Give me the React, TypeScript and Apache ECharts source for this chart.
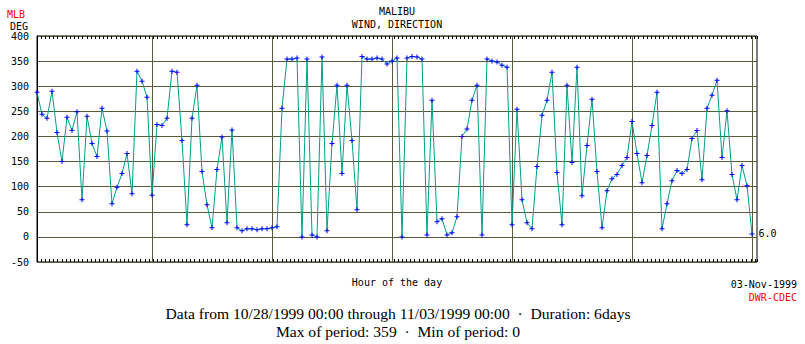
import React, { useEffect, useRef } from "react";
import * as echarts from "echarts";

// Hourly wind direction (deg), hours 1..144 from 10/28/1999 00:00
const startHour = 1;
const directionDeg = [
  288, 244, 236, 290, 208, 150, 238, 212, 249, 74, 240, 186, 160, 256, 211, 66, 99, 126, 166, 86, 330, 310, 278, 83,
  224, 222, 236, 330, 328, 192, 24, 236, 302, 130, 64, 18, 134, 199, 28, 213, 18, 12, 16, 16, 14, 16, 16, 18,
  20, 256, 354, 354, 356, 0, 354, 4, 0, 358, 12, 186, 302, 126, 302, 192, 54, 359, 354, 354, 356, 354, 344, 350,
  356, 0, 356, 359, 358, 354, 4, 272, 30, 36, 4, 8, 40, 200, 215, 272, 302, 4, 354, 350, 348, 342, 338, 24,
  254, 74, 28, 16, 140, 242, 272, 328, 128, 24, 302, 148, 338, 82, 182, 274, 130, 18, 92, 116, 124, 142, 158, 230,
  166, 108, 162, 222, 288, 16, 66, 112, 132, 126, 134, 196, 212, 114, 256, 282, 312, 158, 251, 124, 74, 142, 102, 6,
];
const dayBoundaries = [24, 48, 72, 96, 120, 144];
const yTicks = { min: -50, max: 400, interval: 50 };

const MONO = '"DejaVu Sans Mono", monospace';
const SERIF = '"Liberation Serif", "Times New Roman", serif';
const GRID_COLOR = "#5a5a3a";
const LINE_COLOR = "#00a088";
const MARK_COLOR = "#0000ff";

export default function App() {
  const ref = useRef<HTMLDivElement>(null);
  useEffect(() => {
    if (!ref.current) return;
    const chart = echarts.init(ref.current, null, { renderer: "svg" });
    const last = directionDeg.length - 1;
    const data = directionDeg.map((v, i) => {
      const item: any = { value: [startHour + i, v] };
      if (i === last) {
        item.label = {
          show: true,
          position: "right",
          distance: 4,
          formatter: (p: any) => Number(p.value[1]).toFixed(1),
          fontFamily: MONO,
          fontSize: 10,
          color: "#000",
        };
      }
      return item;
    });
    const tickAxis = (position: "top" | "bottom") => ({
      type: "value",
      position,
      min: 0,
      max: 173.5,
      interval: 1,
      axisLine: { show: false },
      axisTick: { show: true, inside: true, length: 3, lineStyle: { color: "#000", width: 1 } },
      axisLabel: { show: false },
      splitLine: { show: false },
    });
    chart.setOption({
      animation: false,
      backgroundColor: "#fff",
      grid: {
        left: 37,
        right: 48,
        top: 36,
        bottom: 82,
        show: true,
        borderColor: "#000",
        borderWidth: 1,
        backgroundColor: "transparent",
      },
      xAxis: [
        {
          type: "value",
          min: 1,
          max: 145,
          axisLine: { show: false },
          axisTick: { show: false },
          axisLabel: { show: false },
          splitLine: { show: false },
        },
        tickAxis("top"),
        tickAxis("bottom"),
      ],
      yAxis: {
        type: "value",
        min: yTicks.min,
        max: yTicks.max,
        interval: yTicks.interval,
        axisLine: { show: true, lineStyle: { color: "#000" } },
        axisTick: { show: false },
        axisLabel: { fontFamily: MONO, fontSize: 10, color: "#000", margin: 8 },
        splitLine: { show: true, lineStyle: { color: GRID_COLOR, width: 1 } },
      },
      series: [
        {
          type: "line",
          data,
          xAxisIndex: 0,
          symbol: "path://M2,0H3V2H5V3H3V5H2V3H0V2H2Z",
          symbolSize: 5,
          showAllSymbol: true,
          itemStyle: { color: MARK_COLOR },
          lineStyle: { color: LINE_COLOR, width: 1 },
          z: 3,
          markLine: {
            silent: true,
            symbol: ["none", "none"],
            label: { show: false },
            lineStyle: { color: GRID_COLOR, width: 1, type: "solid" },
            data: dayBoundaries.map((h) => ({ xAxis: h })),
            z: 1,
          },
        },
      ],
      graphic: [
        { type: "text", x: 7, y: 14, style: { text: "MLB", fill: "#ff0000", font: `10px ${MONO}`, verticalAlign: "middle" } },
        { type: "text", x: 10, y: 26, style: { text: "DEG", fill: "#000", font: `10px ${MONO}`, verticalAlign: "middle" } },
        { type: "text", x: 397, y: 11, style: { text: "MALIBU", fill: "#000", font: `10px ${MONO}`, align: "center", verticalAlign: "middle" } },
        { type: "text", x: 397, y: 24, style: { text: "WIND, DIRECTION", fill: "#000", font: `10px ${MONO}`, align: "center", verticalAlign: "middle" } },
        { type: "text", x: 397, y: 282, style: { text: "Hour of the day", fill: "#000", font: `10px ${MONO}`, align: "center", verticalAlign: "middle" } },
        { type: "text", x: 797, y: 284, style: { text: "03-Nov-1999", fill: "#000", font: `10px ${MONO}`, align: "right", verticalAlign: "middle" } },
        { type: "text", x: 797, y: 297, style: { text: "DWR-CDEC", fill: "#ff0000", font: `10px ${MONO}`, align: "right", verticalAlign: "middle" } },
        {
          type: "text",
          x: 398,
          y: 313,
          style: {
            text: "Data from 10/28/1999 00:00 through 11/03/1999 00:00  \u00b7  Duration: 6days",
            fill: "#000",
            font: `15.6px ${SERIF}`,
            align: "center",
            verticalAlign: "middle",
          },
        },
        {
          type: "text",
          x: 398,
          y: 331,
          style: {
            text: "Max of period: 359  \u00b7  Min of period: 0",
            fill: "#000",
            font: `15.6px ${SERIF}`,
            align: "center",
            verticalAlign: "middle",
          },
        },
      ],
    });
    return () => chart.dispose();
  }, []);
  return (
    <div
      ref={ref}
      style={{ position: "fixed", left: 0, top: 0, width: 805, height: 344, background: "#fff" }}
    />
  );
}
